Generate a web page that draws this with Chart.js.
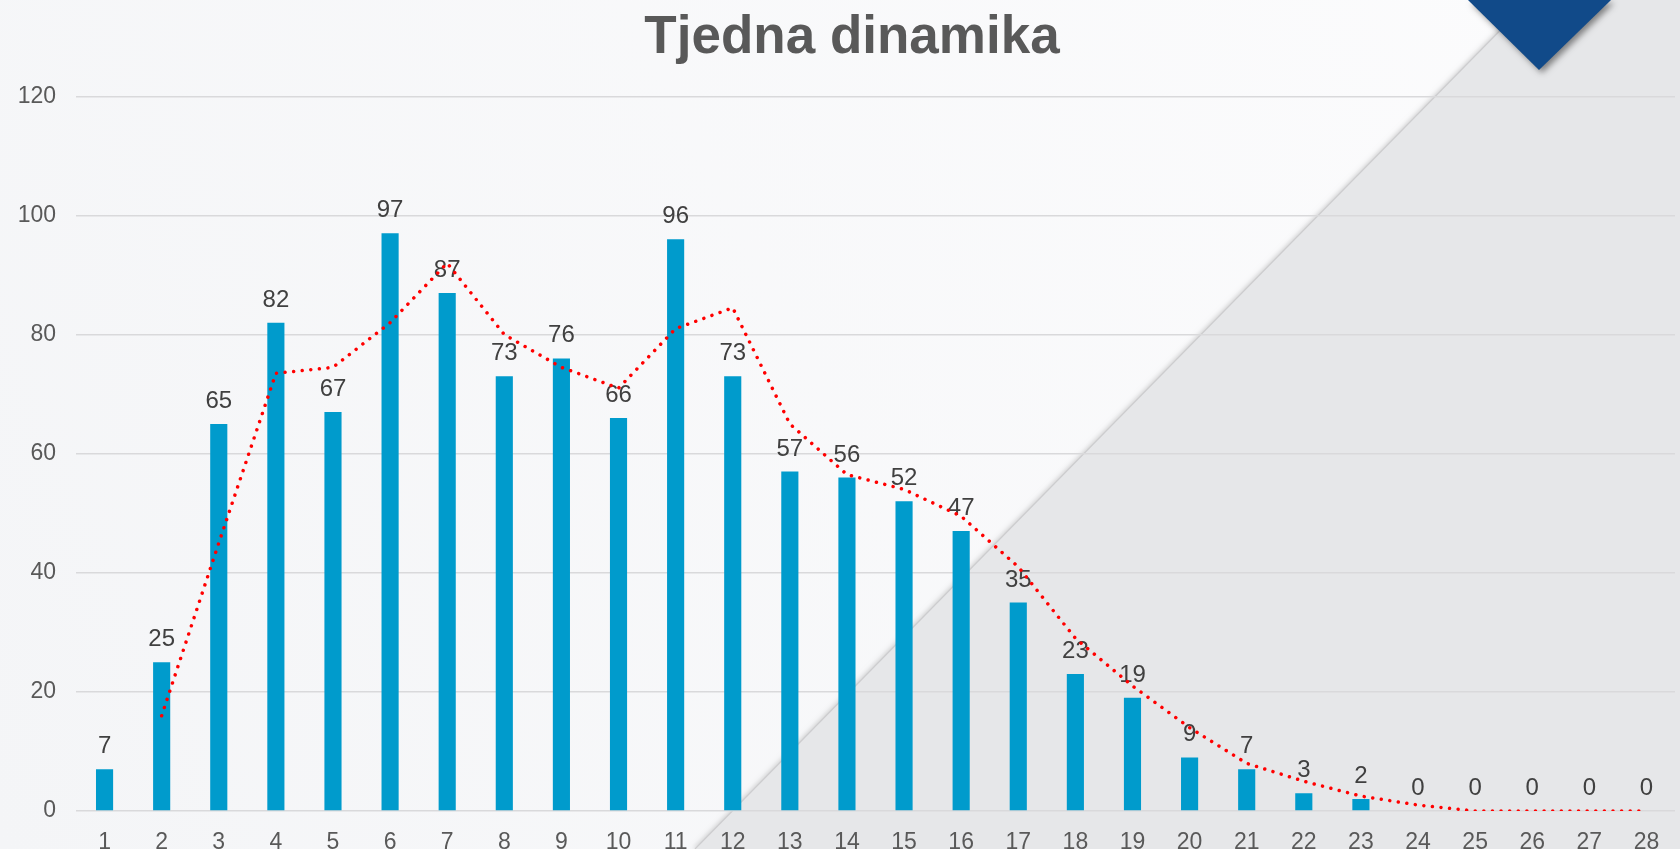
<!DOCTYPE html>
<html><head><meta charset="utf-8">
<script src="https://cdn.jsdelivr.net/npm/chart.js@4.4.0/dist/chart.umd.min.js"></script>
<style>html,body{margin:0;padding:0;background:#F8F9FB;overflow:hidden;width:1680px;height:849px}#wrap{width:1680px;height:849px;position:relative;overflow:hidden}canvas{display:block}</style>
</head><body><div id="wrap"><canvas id="c" width="1680" height="849"></canvas></div>
<script>
const categories = ['1','2','3','4','5','6','7','8','9','10','11','12','13','14','15','16','17','18','19','20','21','22','23','24','25','26','27','28'];
const weeklyCases = [7,25,65,82,67,97,87,73,76,66,96,73,57,56,52,47,35,23,19,9,7,3,2,0,0,0,0,0];
const movingAverage = [null,16,45,73.5,74.5,82,92,80,74.5,71,81,84.5,65,56.5,54,49.5,41,29,21,14,8,5,2.5,1,0,0,0,0];
const yTicks = [0,20,40,60,80,100,120];
const titleText = 'Tjedna dinamika';

const FONT = "'Liberation Sans', Arial, sans-serif";

const backgroundPlugin = {
  id: 'bg',
  beforeDraw(chart) {
    const ctx = chart.ctx, W = chart.width, H = chart.height;
    ctx.save();
    const g = ctx.createLinearGradient(W, 0, 0, H);
    g.addColorStop(0, '#FCFCFD');
    g.addColorStop(1, '#F4F5F7');
    ctx.fillStyle = g;
    ctx.fillRect(0, 0, W, H);
    const x0 = 695, x1 = 1530;
    ctx.beginPath();
    ctx.moveTo(x0, H); ctx.lineTo(x1, 0); ctx.lineTo(W, 0); ctx.lineTo(W, H); ctx.closePath();
    ctx.shadowColor = 'rgba(0,0,0,0.18)';
    ctx.shadowBlur = 5; ctx.shadowOffsetX = -2; ctx.shadowOffsetY = 0;
    ctx.fillStyle = '#E6E7E9';
    ctx.fill();
    ctx.shadowColor = 'transparent';
    ctx.beginPath(); ctx.moveTo(x0, H); ctx.lineTo(x1, 0);
    ctx.strokeStyle = '#CDCDCF'; ctx.lineWidth = 1.2; ctx.stroke();
    ctx.beginPath();
    ctx.moveTo(1468, 0); ctx.lineTo(1539, 70); ctx.lineTo(1611, 0); ctx.closePath();
    ctx.shadowColor = 'rgba(0,0,0,0.45)';
    ctx.shadowBlur = 6; ctx.shadowOffsetX = 3; ctx.shadowOffsetY = 3;
    ctx.fillStyle = '#114A89';
    ctx.fill();
    ctx.restore();
  }
};

const titlePlugin = {
  id: 'chartTitle',
  afterDraw(chart) {
    const ctx = chart.ctx;
    ctx.save();
    ctx.font = 'bold 53px ' + FONT;
    ctx.fillStyle = '#595959';
    ctx.textAlign = 'center';
    ctx.textBaseline = 'alphabetic';
    ctx.fillText(titleText, 852, 53);
    ctx.restore();
  }
};

const valueLabels = {
  id: 'valueLabels',
  afterDatasetDraw(chart, args) {
    if (args.index !== 0) return;
    const ctx = chart.ctx;
    ctx.save();
    ctx.font = '24px ' + FONT;
    ctx.fillStyle = '#404040';
    ctx.textAlign = 'center';
    ctx.textBaseline = 'alphabetic';
    args.meta.data.forEach((bar, i) => {
      ctx.fillText(String(weeklyCases[i]), bar.x, bar.y - 16);
    });
    ctx.restore();
  }
};

new Chart(document.getElementById('c'), {
  data: {
    labels: categories,
    datasets: [
      {
        type: 'bar', label: 'Broj slučajeva', data: weeklyCases,
        backgroundColor: '#009BCC', borderWidth: 0,
        categoryPercentage: 1, barPercentage: 0.3, order: 2
      },
      {
        type: 'line', label: 'Pomični prosjek', data: movingAverage,
        borderColor: '#FF0000', borderWidth: 3.5, borderDash: [0.01, 8.6],
        borderCapStyle: 'round', pointRadius: 0, fill: false, tension: 0, order: 1
      }
    ]
  },
  options: {
    responsive: false, animation: false, devicePixelRatio: 1,
    layout: { padding: { left: 0, right: 5, top: 96.4, bottom: 0 } },
    plugins: {
      legend: { display: false },
      tooltip: { enabled: false },
      title: { display: false, text: titleText }
    },
    scales: {
      x: {
        grid: { display: false }, border: { display: false },
        ticks: { color: '#595959', font: { family: FONT, size: 23 }, padding: 10, maxRotation: 0, autoSkip: false },
        afterFit(s) { s.height = 38; }
      },
      y: {
        min: 0, max: 120,
        afterBuildTicks(s) { s.ticks = yTicks.map(v => ({ value: v })); },
        grid: { color: '#D9D9DB', lineWidth: 1.5, drawTicks: false },
        border: { display: false },
        ticks: { color: '#595959', font: { family: FONT, size: 23 }, padding: 20 },
        afterFit(s) { s.width = 76; }
      }
    }
  },
  plugins: [backgroundPlugin, valueLabels, titlePlugin]
});
</script></body></html>
